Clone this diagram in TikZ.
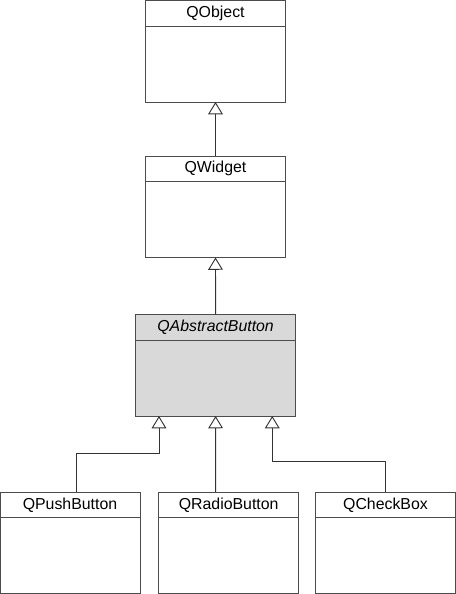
\documentclass[tikz,border=0pt]{standalone}
\usepackage{fontspec}
\setmainfont{Liberation Sans}
\usetikzlibrary{arrows.meta,positioning}

\begin{document}
\begin{tikzpicture}[x=0.75pt,y=-0.75pt,line width=0.7pt,
  classhead/.style={draw=black!70,fill=white,minimum width=105pt,minimum height=19.1pt,
    inner sep=0pt,outer sep=0pt,font=\fontsize{11.9}{14}\selectfont},
  classbody/.style={draw=black!70,fill=white,minimum width=105pt,minimum height=57pt,
    inner sep=0pt,outer sep=0pt},
  inherits/.style={draw=black!80,-{Triangle[open,width=11pt,length=9.2pt]}}]
\useasboundingbox (0,0) rectangle (456,594);
% class boxes
\node[classhead] (objhead) at (215.5,13.25) {QObject};
\node[classbody,below=0pt of objhead] (objbody) {};
\node[classhead] (widhead) at (215.5,168.75) {QWidget};
\node[classbody,below=0pt of widhead] (widbody) {};
\node[classhead,fill=black!15,minimum width=120pt,font=\fontsize{11.9}{14}\selectfont\itshape]
  (abshead) at (215.6,327.25) {QAbstractButton};
\node[classbody,fill=black!15,minimum width=120pt,below=0pt of abshead] (absbody) {};
\node[classhead] (pushhead) at (70,504.75) {QPushButton};
\node[classbody,below=0pt of pushhead] (pushbody) {};
\node[classhead] (radiohead) at (228.7,504.75) {QRadioButton};
\node[classbody,below=0pt of radiohead] (radiobody) {};
\node[classhead] (checkhead) at (385.5,504.75) {QCheckBox};
\node[classbody,below=0pt of checkhead] (checkbody) {};
% inheritance
\draw[inherits] (widhead.north) -- (objbody.south);
\draw[inherits] (abshead.north) -- (widbody.south);
\draw[inherits] ([xshift=4.5pt]pushhead.north) -- ++(0,-38.7) -| ([xshift=-42.45pt]absbody.south);
\draw[inherits] ([xshift=-9.75pt]radiohead.north) -- (absbody.south);
\draw[inherits] (checkhead.north) -- ++(0,-31) -| ([xshift=42.5pt]absbody.south);
\end{tikzpicture}
\end{document}
